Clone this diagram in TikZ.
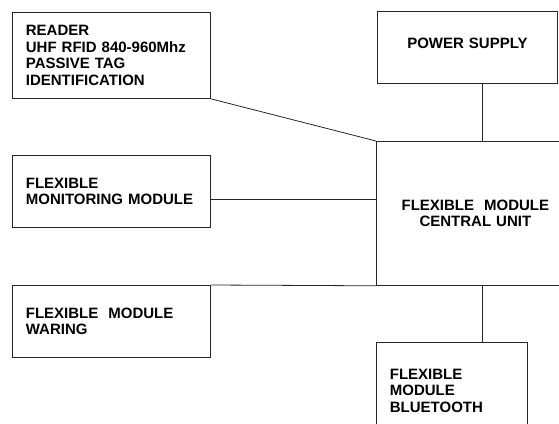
\documentclass[tikz,border=0pt]{standalone}
\usepackage{fontspec}
\setmainfont{Liberation Sans}
\usepackage{tikz}

\tikzset{
  block/.style={draw=black!85, line width=0.8pt, rectangle, anchor=north west,
    inner xsep=13.5pt, inner ysep=0pt, font=\bfseries\fontsize{15}{16.5}\selectfont},
  link/.style={draw=black!85, line width=0.8pt},
}

\begin{document}
\begin{tikzpicture}[x=1pt, y=-1pt]
\clip (0,0) rectangle (559,423);
% left column
\node[block, align=left, text width=171, minimum height=86] (reader) at (12,12)
  {READER\\UHF RFID 840-960Mhz\\PASSIVE TAG\\IDENTIFICATION};
\node[block, align=left, text width=171, minimum height=72] (monitor) at (12,155)
  {FLEXIBLE\\MONITORING MODULE};
\node[block, align=left, text width=171, minimum height=72] (waring) at (12,285)
  {FLEXIBLE\ \ MODULE\\WARING};
% right column
\node[block, align=center, text width=153, text depth=8pt, minimum height=72] (power) at (377,11)
  {POWER SUPPLY};
\node[block, align=center, text width=171, minimum height=144] (central) at (376,141)
  {FLEXIBLE\ \ MODULE\\CENTRAL UNIT};
\node[block, align=left, text width=124, minimum height=97] (bluetooth) at (376,342)
  {FLEXIBLE\\MODULE\\BLUETOOTH};
% connectors
\coordinate (tap) at (482,0);
\coordinate (mon) at ([yshift=-8pt]monitor.east);
\draw[link] (reader.south east) -- (central.north west);
\draw[link] (mon) -- (mon -| central.west);
\draw[link] (waring.north east) -- (central.south west);
\draw[link] (power.south -| tap) -- (central.north -| tap);
\draw[link] (central.south -| tap) -- (bluetooth.north -| tap);
\end{tikzpicture}
\end{document}
